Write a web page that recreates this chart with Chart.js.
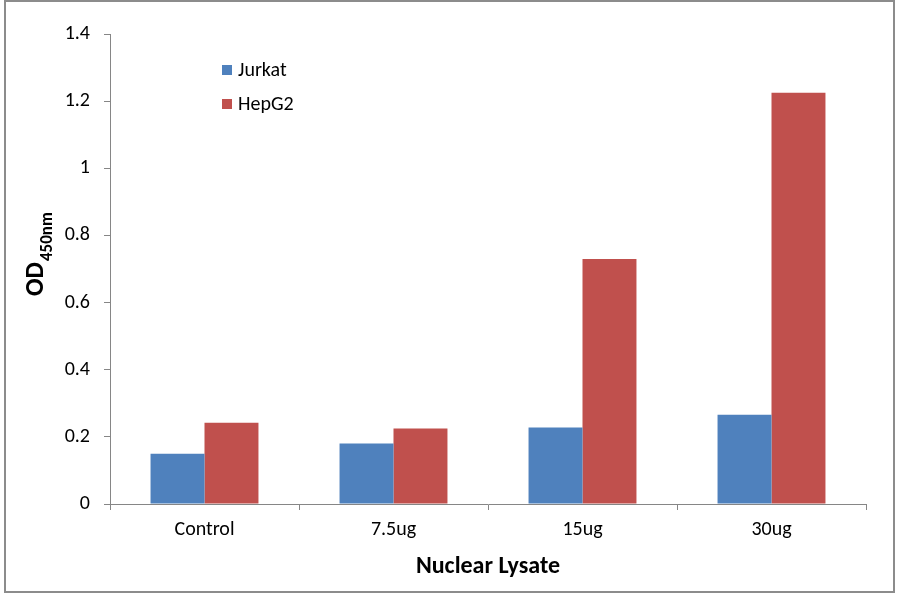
<!DOCTYPE html>
<html>
<head>
<meta charset="utf-8">
<script src="https://cdn.jsdelivr.net/npm/chart.js@4/dist/chart.umd.min.js"></script>
<style>
    html, body { margin: 0; padding: 0; background: #fff; }
    #wrap { position: relative; width: 900px; height: 594px; }
</style>
</head>
<body>
<div id="wrap"><canvas id="odChart"></canvas></div>
<script>
// Data
const categories = ['Control', '7.5ug', '15ug', '30ug'];
const jurkatValues = [0.15, 0.18, 0.228, 0.266];
const hepg2Values = [0.242, 0.225, 0.73, 1.225];
const seriesNames = ['Jurkat', 'HepG2'];

const FONT = "Carlito, Lato, 'Open Sans', sans-serif";
const axisGrey = '#868686';

// Outer frame, y title with subscript and in-plot legend
const extras = {
    id: 'extras',
    afterDraw(chart) {
        const ctx = chart.ctx;
        ctx.save();
        ctx.strokeStyle = '#8c8c8c';
        ctx.lineWidth = 2;
        ctx.strokeRect(5, 1, 889, 591);

        // y axis title: OD with 450nm as subscript
        ctx.translate(43, 296);
        ctx.rotate(-Math.PI / 2);
        ctx.fillStyle = '#000';
        ctx.textBaseline = 'alphabetic';
        ctx.textAlign = 'left';
        ctx.font = 'bold 26px ' + FONT;
        ctx.fillText('OD', 0, 0);
        const w = ctx.measureText('OD').width;
        ctx.font = 'bold 17px ' + FONT;
        ctx.fillText('450nm', w + 1, 9);
        ctx.restore();

        // legend
        ctx.save();
        ctx.font = '20px ' + FONT;
        ctx.textBaseline = 'middle';
        chart.data.datasets.forEach((ds, i) => {
            const y = 70 + i * 34;
            ctx.fillStyle = ds.backgroundColor;
            ctx.fillRect(222, y - 5, 10, 10);
            ctx.fillStyle = '#000';
            ctx.fillText(ds.label, 238, y + 1);
        });
        ctx.restore();
    }
};

new Chart(document.getElementById('odChart'), {
    type: 'bar',
    data: {
        labels: categories,
        datasets: [
            { label: seriesNames[0], data: jurkatValues, backgroundColor: '#4F81BD' },
            { label: seriesNames[1], data: hepg2Values, backgroundColor: '#C0504D' }
        ]
    },
    options: {
        responsive: true,
        maintainAspectRatio: false,
        animation: false,
        datasets: {
            bar: { categoryPercentage: 0.571, barPercentage: 1.0 }
        },
        layout: { padding: { left: 0, right: 34, top: 34, bottom: 0 } },
        plugins: {
            legend: { display: false },
            tooltip: { enabled: false }
        },
        scales: {
            x: {
                afterFit(scale) { scale.height = 90; },
                grid: {
                    offset: true,
                    drawOnChartArea: false,
                    drawTicks: true,
                    tickLength: 6,
                    color: axisGrey
                },
                border: { color: axisGrey, width: 1 },
                ticks: {
                    color: '#000',
                    font: { family: FONT, size: 20 },
                    padding: 8
                },
                title: {
                    display: true,
                    text: 'Nuclear Lysate',
                    color: '#000',
                    font: { family: FONT, size: 24, weight: 'bold' },
                    padding: { top: 4, bottom: 13 }
                }
            },
            y: {
                min: 0,
                max: 1.4,
                afterFit(scale) { scale.width = 110; },
                grid: {
                    drawOnChartArea: false,
                    drawTicks: true,
                    tickLength: 6,
                    color: axisGrey
                },
                border: { color: axisGrey, width: 1 },
                ticks: {
                    stepSize: 0.2,
                    color: '#000',
                    padding: 14,
                    font: { family: FONT, size: 20 },
                    callback: v => String(Number(v.toFixed(1)))
                }
            }
        }
    },
    plugins: [extras]
});
</script>
</body>
</html>
